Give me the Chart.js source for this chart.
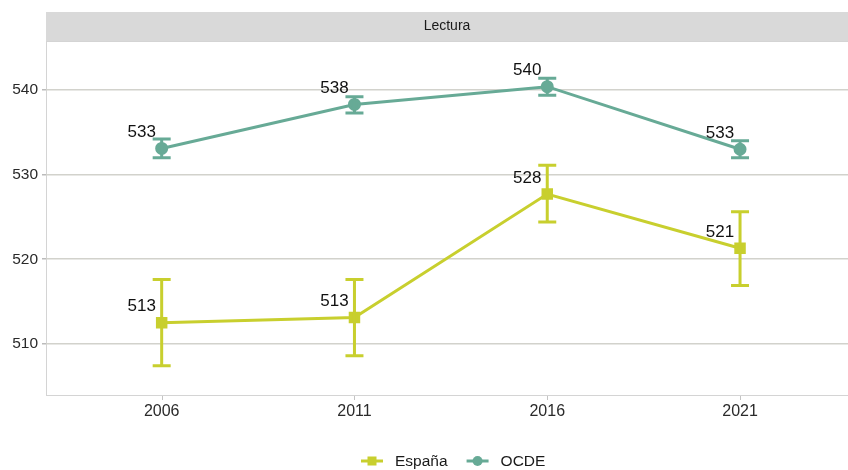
<!DOCTYPE html>
<html>
<head>
<meta charset="utf-8">
<script src="https://cdn.jsdelivr.net/npm/chart.js@4"></script>
<style>
  html, body { margin: 0; padding: 0; background: #fff; }
  #wrap { width: 848px; height: 470px; }
</style>
</head>
<body>
<div id="wrap"><canvas id="chart" width="848" height="470"></canvas></div>
<script>
// Lectura: España vs OCDE
const years = [2006, 2011, 2016, 2021];
const espana = [512.5, 513.1, 527.7, 521.3];
const espanaLow = [507.4, 508.6, 524.4, 516.9];
const espanaHigh = [517.6, 517.6, 531.1, 525.6];
const ocde = [533.1, 538.3, 540.4, 533.0];
const ocdeLow = [532.0, 537.3, 539.4, 532.0];
const ocdeHigh = [534.2, 539.2, 541.4, 534.0];
const espanaLabels = ['513', '513', '528', '521'];
const ocdeLabels = ['533', '538', '540', '533'];
const yTicks = [510, 520, 530, 540];
const panelTitle = 'Lectura';

const colEs = '#c8cf2e';
const colOc = '#67aa96';
const font = '"Liberation Sans", Arial, sans-serif';

const toPts = vals => vals.map((v, i) => ({x: years[i], y: v}));

// error bars, value labels, strip header and legend
const extras = {
  id: 'extras',
  beforeDraw(chart) {
    const {ctx, chartArea: a} = chart;
    ctx.save();
    ctx.fillStyle = '#d9d9d9';
    ctx.fillRect(a.left, 12, 848 - a.left, a.top - 12);
    ctx.fillStyle = '#1a1a1a';
    ctx.font = '14px ' + font;
    ctx.textAlign = 'center';
    ctx.textBaseline = 'middle';
    ctx.fillText(panelTitle, (a.left + 848) / 2, 26.5);
    ctx.strokeStyle = '#d4d4d4';
    ctx.lineWidth = 1;
    ctx.strokeRect(a.left + 0.5, a.top + 0.5, a.right - a.left + 2, a.bottom - a.top);
    // small x tick marks
    ctx.strokeStyle = '#c4c4c4';
    ctx.beginPath();
    years.forEach(yr => {
      const x = Math.round(chart.scales.x.getPixelForValue(yr)) + 0.5;
      ctx.moveTo(x, a.bottom + 1); ctx.lineTo(x, a.bottom + 5);
    });
    ctx.stroke();
    ctx.restore();
  },
  afterDatasetsDraw(chart) {
    const {ctx} = chart;
    const xs = chart.scales.x, ys = chart.scales.y;
    const bars = [[espanaLow, espanaHigh, colEs], [ocdeLow, ocdeHigh, colOc]];
    ctx.save();
    bars.forEach(([lo, hi, c]) => {
      ctx.strokeStyle = c;
      ctx.lineWidth = 3;
      years.forEach((yr, i) => {
        const x = xs.getPixelForValue(yr);
        const y1 = ys.getPixelForValue(lo[i]);
        const y2 = ys.getPixelForValue(hi[i]);
        ctx.beginPath();
        ctx.moveTo(x, y1); ctx.lineTo(x, y2);
        ctx.moveTo(x - 9, y1); ctx.lineTo(x + 9, y1);
        ctx.moveTo(x - 9, y2); ctx.lineTo(x + 9, y2);
        ctx.stroke();
      });
    });
    ctx.fillStyle = '#111';
    ctx.font = '17px ' + font;
    ctx.textAlign = 'center';
    ctx.textBaseline = 'middle';
    [[espana, espanaLabels], [ocde, ocdeLabels]].forEach(([vals, labs]) => {
      vals.forEach((v, i) => {
        const x = xs.getPixelForValue(years[i]);
        const y = ys.getPixelForValue(v);
        ctx.fillText(labs[i], x - 20, y - 16);
      });
    });
    // legend
    const items = [['España', colEs, 'rect'], ['OCDE', colOc, 'circle']];
    let lx = 361;
    const ly = 461;
    ctx.font = '15.5px ' + font;
    ctx.textAlign = 'left';
    items.forEach(([name, c, shape]) => {
      ctx.strokeStyle = c; ctx.fillStyle = c; ctx.lineWidth = 3;
      ctx.beginPath(); ctx.moveTo(lx, ly); ctx.lineTo(lx + 22, ly); ctx.stroke();
      if (shape === 'rect') ctx.fillRect(lx + 6.5, ly - 4.5, 9, 9);
      else { ctx.beginPath(); ctx.arc(lx + 11, ly, 5, 0, Math.PI * 2); ctx.fill(); }
      ctx.fillStyle = '#1a1a1a';
      ctx.fillText(name, lx + 34, ly + 1);
      lx += 34 + ctx.measureText(name).width + 19;
    });
    ctx.restore();
  }
};

new Chart(document.getElementById('chart'), {
  type: 'line',
  data: {
    datasets: [{
      label: 'España',
      data: toPts(espana),
      borderColor: colEs,
      backgroundColor: colEs,
      borderWidth: 3,
      pointStyle: 'rect',
      pointRadius: 6,
      tension: 0
    }, {
      label: 'OCDE',
      data: toPts(ocde),
      borderColor: colOc,
      backgroundColor: colOc,
      borderWidth: 3,
      pointStyle: 'circle',
      pointRadius: 5,
      tension: 0
    }]
  },
  options: {
    responsive: false,
    animation: false,
    layout: {autoPadding: false, padding: {top: 41, left: 0, right: 0, bottom: 0}},
    plugins: {legend: {display: false}, tooltip: {enabled: false}},
    scales: {
      x: {
        type: 'linear',
        min: 2003,
        max: 2023.8,
        afterBuildTicks: s => { s.ticks = years.map(v => ({value: v})); },
        afterFit: s => { s.height = 75; s.paddingLeft = 0; s.paddingRight = 0; },
        grid: {display: false},
        border: {display: false},
        ticks: {color: '#2a2a2a', font: {size: 16, family: font}, padding: -1,
                callback: v => String(v)}
      },
      y: {
        min: 503.95,
        max: 545.8,
        afterBuildTicks: s => { s.ticks = yTicks.map(v => ({value: v})); },
        afterFit: s => { s.width = 46; },
        grid: {color: '#d2d2cc', lineWidth: 1.5, tickLength: 4, tickColor: '#bbb'},
        border: {display: false},
        ticks: {color: '#2a2a2a', font: {size: 15.5, family: font}, padding: 4}
      }
    }
  },
  plugins: [extras]
});
</script>
</body>
</html>
